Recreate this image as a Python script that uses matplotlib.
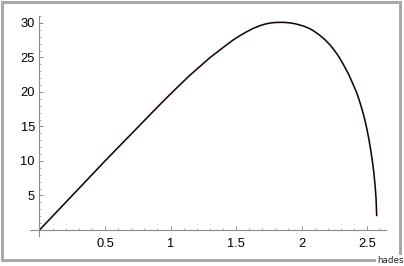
import matplotlib
matplotlib.use("Agg")
import matplotlib.pyplot as plt
from matplotlib.patches import Rectangle
from matplotlib.ticker import MultipleLocator, FixedLocator

# curve values
x_vals = [0.0, 0.25, 0.5, 0.731, 0.9, 1.0, 1.073, 1.15, 1.225, 1.3, 1.372,
          1.43, 1.48, 1.53, 1.58, 1.63, 1.683, 1.72, 1.76, 1.8, 1.836, 1.875,
          1.912, 1.95, 1.983, 2.025, 2.065, 2.1, 2.14, 2.18, 2.218, 2.25,
          2.285, 2.319, 2.36, 2.395, 2.42, 2.441, 2.467, 2.485, 2.5, 2.515,
          2.53, 2.543, 2.553, 2.562, 2.569, 2.574]
y_vals = [0.0, 5.0, 10.0, 14.5, 17.8, 19.7, 21.05, 22.45, 23.7, 24.95, 26.0,
          26.85, 27.55, 28.15, 28.7, 29.2, 29.6, 29.82, 29.98, 30.06, 30.08, 30.07,
          30.0, 29.88, 29.72, 29.48, 29.15, 28.75, 28.2, 27.55, 26.8, 26.05,
          25.1, 24.0, 22.55, 21.05, 19.95, 18.8, 17.15, 15.85, 14.55, 13.1,
          11.4, 9.7, 8.15, 6.4, 4.6, 2.0]
x_ticks = [0.5, 1, 1.5, 2, 2.5]
x_tick_labels = ["0.5", "1", "1.5", "2", "2.5"]
y_ticks = [5, 10, 15, 20, 25, 30]
y_tick_labels = ["5", "10", "15", "20", "25", "30"]
watermark = "hades"

W, H = 404, 266
fig = plt.figure(figsize=(W / 100, H / 100), dpi=100)
fig.patch.set_facecolor("white")

left, right, top, bottom = 30, 386, 16, 236
ax = fig.add_axes([left / W, (H - bottom) / H, (right - left) / W, (bottom - top) / H])
ax.set_xlim(-0.0725, 2.645)
ax.set_ylim(-0.87, 31.0)
ax.set_facecolor("none")

ax.plot(x_vals, y_vals, color="#1a0505", lw=1.15, solid_capstyle="butt",
        solid_joinstyle="round")

axis_col = "#8c8c8c"
for s in ["top", "right"]:
    ax.spines[s].set_visible(False)
for s in ["left", "bottom"]:
    ax.spines[s].set_position(("data", 0))
    ax.spines[s].set_color(axis_col)
    ax.spines[s].set_linewidth(0.8)

ax.xaxis.set_major_locator(FixedLocator(x_ticks))
ax.set_xticklabels(x_tick_labels)
ax.yaxis.set_major_locator(FixedLocator(y_ticks))
ax.set_yticklabels(y_tick_labels)
ax.xaxis.set_minor_locator(MultipleLocator(0.1))
ax.yaxis.set_minor_locator(MultipleLocator(1))

font = "Liberation Sans"
ax.tick_params(which="major", direction="in", length=3.0, width=0.7, color=axis_col,
               labelsize=9.3, labelcolor="black")
ax.tick_params(which="minor", direction="in", length=1.5, width=0.5, color=axis_col)
ax.tick_params(axis="x", which="major", pad=5.5)
ax.tick_params(axis="y", which="major", pad=3.3)
for lab in ax.get_xticklabels() + ax.get_yticklabels():
    lab.set_fontfamily(font)

# gray frame around the picture
lw_px = 3
rect = Rectangle((1.5 / W, (H - 259.5) / H), (399.5 - 1.5) / W, (259.5 - 2) / H,
                 transform=fig.transFigure, fill=False, edgecolor="#a8a8a8",
                 linewidth=lw_px * 0.72, zorder=5)
fig.add_artist(rect)

fig.text(391 / W, (H - 260.5) / H, watermark, ha="center", va="center",
         fontsize=6.3, family=["Liberation Sans Narrow", "DejaVu Sans"],
         color="#202020", zorder=10,
         bbox=dict(boxstyle="square,pad=0.15", fc="white", ec="none"))

fig.savefig("out.png", dpi=100, facecolor="white")
